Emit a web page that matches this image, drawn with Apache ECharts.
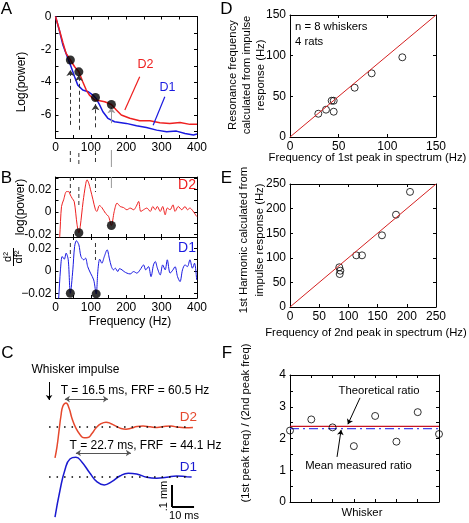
<!DOCTYPE html>
<html><head><meta charset="utf-8">
<script src="https://cdn.jsdelivr.net/npm/echarts@6/dist/echarts.min.js"></script>
<style>html,body{margin:0;padding:0;background:#fff}#c{width:469px;height:523px}</style>
</head><body><div id="c"></div>
<script>
const FONT = '"Liberation Sans", Arial, Helvetica, sans-serif';
const RED = '#ee2020', BLUE = '#1a1ae0', CRED = '#e5482d', CBLUE = '#1a1ad0';

// ---------- Panel A : log power spectrum ----------
const specFreqD2 = [0,11,21,30,42,54,66,77,87,96,111,125,139,158,172,186,210,238,267,295,323,352,380,400];
const specLogD2  = [0,-0.82,-1.6,-2.25,-2.65,-3.06,-3.37,-3.97,-4.48,-4.79,-5.09,-5.13,-5.19,-5.36,-5.70,-6.0,-6.2,-6.35,-6.35,-6.47,-6.51,-6.45,-6.57,-6.57];
const specFreqD1 = [0,11,21,35,44,54,63,77,92,106,115,125,134,148,167,200,229,257,286,314,342,366,390,400];
const specLogD1  = [0,-0.85,-1.74,-2.55,-3.06,-3.67,-4.18,-4.48,-4.58,-4.79,-4.99,-5.4,-5.8,-6.2,-6.41,-6.51,-6.65,-6.76,-6.92,-7.02,-6.98,-7.12,-7.22,-7.16];
const peakFreqA = [42,66,113,158];
const peakLogA  = [-2.65,-3.37,-4.93,-5.36];
const arrowTipLogA  = [-3.26,-3.57,-5.34,-5.52];
const arrowBaseLogA = [-6.6,-6.9,-6.75,-6.5];

// ---------- Panel B : second derivative ----------
const d2Freq = [10,12,17,23,31,37,42,47,53,61,66,70,78,85,89,94,99,106,113,117,124,131,141,150,158,166,174,183,192,202,211,221,228,235,241,249,258,268,275,282,288,296,303,310,316,324,332,338,347,357,366,373,380,388,399];
const d2Val  = [-0.03,-0.022,0.0047,0.0107,0.018,0.018,0.015,0.012,0.009,-0.0116,-0.0187,-0.013,0.009,0.024,0.0285,0.0255,0.0196,0.0107,0.0018,0.0003,0.0056,0.0038,-0.0012,-0.0042,-0.0122,0.0003,0.0077,0.0047,0.0038,0.0018,0.0033,0.0018,0.0047,0.0092,0.0003,0.0018,0.0033,0.0003,0.0047,0.0018,0.0047,0.0003,0.0047,-0.0027,0.0033,0.0018,0.0062,0.0003,0.0047,0.0018,0.0047,0.0018,0.0033,0.0009,-0.0042];
const d1Freq = [7,9,14,19,25,30,36,42,49,54,59,66,72,80,85,91,99,108,115,120,125,131,138,146,152,158,164,169,176,181,188,194,202,211,221,230,239,249,255,263,270,277,282,288,296,303,310,316,324,332,338,345,352,359,366,373,380,387,393,399];
const d1Val  = [-0.03,-0.024,0.0009,0.0127,0.0104,0.0157,0.0098,-0.0198,0.0009,0.0216,0.0267,0.0231,0.0127,0.0098,0.0113,0.0038,-0.002,-0.008,-0.0204,0.0009,0.0104,0.0068,0.0127,0.0187,0.0113,0.0038,0.0009,0.0024,-0.0006,0.002,0.0009,-0.0006,-0.002,-0.0027,-0.0006,-0.002,0.0009,0.0053,0.0009,0.0038,-0.0051,0.0053,0.0083,0.0024,-0.0036,0.0053,0.0009,0.0098,-0.002,0.0009,0.0038,-0.0051,-0.0095,0.0009,0.0053,0.0038,0.0098,0.0024,0.0068,-0.008];
const d2DotFreq = [66,158], d2DotVal = [-0.0187,-0.0122];
const d1DotFreq = [42,115], d1DotVal = [-0.0198,-0.0204];

// ---------- Panel C : impulse responses (ms, mm) ----------
const tD2 = [0,0.9,1.8,2.7,3.6,5,6.4,7.7,9.5,11.4,13.2,15,16.8,18.6,20.9,23.2,25.5,27.7,30,32.3,34.5,37.3,40,43.2,46.4,49.5,52.7,55.9,59.1,62.7];
const yD2 = [-0.14,-0.09,-0.02,0.05,0.095,0.109,0.085,0.04,-0.005,-0.035,-0.049,-0.048,-0.03,-0.005,0.015,0.022,0.015,0.004,-0.007,-0.01,-0.006,0.002,0.004,0.001,-0.002,0.002,0.004,-0.001,-0.003,-0.002];
const tD1 = [0,2.3,4.5,6.8,9.5,12.1,15.9,19,22.4,25.8,29.5,33.3,37.1,41.7,46.2,50.8,55.3,59.9,62.1];
const yD1 = [-0.182,-0.059,0.032,0.082,0.0895,0.0695,0.017,-0.021,-0.036,-0.021,0.0045,0.017,0.0136,-0.0014,-0.006,-0.0014,0.0045,0.0014,0];
const baselineT = [-2.7,61.4];
const periodD2 = [4.5,24.1], periodD1 = [9.5,34.5];

// ---------- Panel D ----------
const dX = [29.1,37,42.8,44.9,44.9,66.4,83.9,115.4];
const dY = [28.6,33.6,44.6,44.6,31.1,60.6,78.3,98];
const unityD = [0,150];
// ---------- Panel E ----------
const eX = [84.4,86.2,85.1,113.5,123.3,157.5,181.5,205.5];
const eY = [80.7,73.8,67,105,105,145.7,187.6,234];
const unityE = [0,250];
// ---------- Panel F ----------
const whisker = [1,2,3,4,5,6,7,8];
const ratio = [2.25,2.6,2.35,1.76,2.71,1.9,2.83,2.14];
const theoreticalRatio = 2.38;
const meanRatio = 2.31;

const zip = (a,b) => a.map((v,i)=>[v,b[i]]);
const range = (a,b,s) => { const r=[]; for(let v=a; v<=b+1e-9; v+=s) r.push(+v.toFixed(6)); return r; };

const grids = [
  {left:55.5, top:16.5, width:141.5, height:121.5},   // 0 A
  {left:55.5, top:177, width:141.5, height:60},       // 1 B top
  {left:55.5, top:237, width:141.5, height:61},       // 2 B bottom
  {left:44, top:372, width:154, height:88},           // 3 C D2
  {left:44, top:435.2, width:154, height:83.6},       // 4 C D1
  {left:290, top:15, width:146, height:122},          // 5 D
  {left:290, top:184, width:146, height:123},         // 6 E
  {left:290, top:375, width:149, height:127}          // 7 F
];
const xAxes = [], yAxes = [];
function ax(gi,pos,r,ticks,labels,fmt){
  return {type:'value', gridIndex:gi, position:pos, min:r[0], max:r[1],
    axisLine:{show:true,onZero:false,lineStyle:{color:'#000',width:1}},
    axisTick:{show:true,inside:true,length:3,customValues:ticks,lineStyle:{color:'#000',width:1}},
    axisLabel:{show:!!labels, customValues:labels||undefined, formatter:fmt, color:'#000', fontSize:12, fontFamily:FONT, margin:4},
    splitLine:{show:false}};
}
function frame(gi,xr,yr,xt,xl,yt,yl,xf,yf){
  const xi=xAxes.length, yi=yAxes.length;
  xAxes.push(ax(gi,'bottom',xr,xt,xl,xf)); xAxes.push(ax(gi,'top',xr,xt,null,xf));
  yAxes.push(ax(gi,'left',yr,yt,yl,yf)); yAxes.push(ax(gi,'right',yr,yt,null,yf));
  return [xi,yi];
}
function hidden(gi,xr,yr){
  const xi=xAxes.length, yi=yAxes.length;
  xAxes.push({type:'value',gridIndex:gi,min:xr[0],max:xr[1],show:false});
  yAxes.push({type:'value',gridIndex:gi,min:yr[0],max:yr[1],show:false});
  return [xi,yi];
}
const fmtInt = v => String(Math.round(v));
const fmtB1 = v => Math.abs(v)<1e-9 ? '0' : (v>0 ? '0.02' : '-0.02');
const fmtB2 = v => Math.abs(v)<1e-9 ? '0' : (v>0 ? '0.02' : '\u22120.02');

const A  = frame(0,[0,400],[-7.4,0],range(0,400,50),range(0,400,100),range(-7,0,1),[-6,-4,-2,0],fmtInt,fmtInt);
const B1 = frame(1,[0,400],[-0.0225,0.031],range(0,400,50),null,[-0.02,-0.01,0,0.01,0.02,0.03],[-0.02,0,0.02],fmtInt,fmtB1);
const B2 = frame(2,[0,400],[-0.024,0.030],range(0,400,50),range(0,400,100),[-0.02,-0.01,0,0.01,0.02],[-0.02,0,0.02],fmtInt,fmtB2);
const C2 = hidden(3,[-5,65],[-0.15,0.25]);
const C1 = hidden(4,[-5,65],[-0.19,0.19]);
const D  = frame(5,[0,150],[0,150],range(0,150,50),range(0,150,50),range(0,150,50),range(0,150,50),fmtInt,fmtInt);
const E  = frame(6,[0,250],[0,250],range(0,250,50),range(0,250,50),range(0,250,50),range(0,250,50),fmtInt,fmtInt);
const F  = frame(7,[1,8],[0,4],whisker,null,range(0,4,0.5),[0,1,2,3,4],fmtInt,fmtInt);

const ML = (data, extra={}) => Object.assign({silent:true, animation:false, symbol:['none','arrow'], symbolSize:6, label:{show:false}, data}, extra);
const seg = (p,q,ls) => [{coord:p, lineStyle:ls},{coord:q}];
const circ = {color:'rgba(0,0,0,0)', borderColor:'#000', borderWidth:1};

const series = [
  // A
  {type:'line', xAxisIndex:A[0], yAxisIndex:A[1], data:zip(specFreqD1,specLogD1), showSymbol:false, lineStyle:{color:BLUE,width:1.5},
    markLine:ML([seg([309,-4.89],[276,-6.62],{color:BLUE,width:1.2,type:'solid'})],{symbol:'none'})},
  {type:'line', xAxisIndex:A[0], yAxisIndex:A[1], data:zip(specFreqD2,specLogD2), showSymbol:false, lineStyle:{color:RED,width:1.5},
    markLine:ML([seg([238,-3.67],[196,-5.7],{color:RED,width:1.2,type:'solid'})],{symbol:'none'})},
  {type:'scatter', xAxisIndex:A[0], yAxisIndex:A[1], data:zip(peakFreqA,peakLogA), symbolSize:9, itemStyle:{color:'#000'}, z:5,
    markLine:ML(peakFreqA.map((f,i)=>seg([f,arrowBaseLogA[i]],[f,arrowTipLogA[i]],{color:i===3?'#999':'#333',width:1,type:i===3?'solid':[4,3]})))},
  // B
  {type:'line', xAxisIndex:B1[0], yAxisIndex:B1[1], data:zip(d2Freq,d2Val), showSymbol:false, smooth:0.3, lineStyle:{color:RED,width:1}},
  {type:'scatter', xAxisIndex:B1[0], yAxisIndex:B1[1], data:zip(d2DotFreq,d2DotVal), symbolSize:9, itemStyle:{color:'#000'}, clip:false, z:5},
  {type:'line', xAxisIndex:B2[0], yAxisIndex:B2[1], data:zip(d1Freq,d1Val), showSymbol:false, smooth:0.3, lineStyle:{color:BLUE,width:1}},
  {type:'scatter', xAxisIndex:B2[0], yAxisIndex:B2[1], data:zip(d1DotFreq,d1DotVal), symbolSize:9, itemStyle:{color:'#000'}, clip:false, z:5},
  // C
  {type:'line', xAxisIndex:C2[0], yAxisIndex:C2[1], data:zip(tD2,yD2), showSymbol:false, smooth:0.5, clip:false, lineStyle:{color:CRED,width:1.5},
    markLine:ML([
      seg([-2.7,0.2045],[-2.7,0.1227],{color:'#000',width:1,type:'solid'}),
      [{coord:[periodD2[0],0.127], symbol:'arrow', lineStyle:{color:'#555',width:1.2,type:'solid'}},{coord:[periodD2[1],0.127], symbol:'arrow'}]
    ],{symbolSize:5})},
  {type:'line', xAxisIndex:C2[0], yAxisIndex:C2[1], data:baselineT.map(t=>[t,0]), showSymbol:false, lineStyle:{color:'#000',width:1.5,type:[1.5,6]}},
  {type:'line', xAxisIndex:C1[0], yAxisIndex:C1[1], data:zip(tD1,yD1), showSymbol:false, smooth:0.5, clip:false, lineStyle:{color:CBLUE,width:1.5},
    markLine:ML([
      [{coord:[periodD1[0],0.109], symbol:'arrow', lineStyle:{color:'#555',width:1.2,type:'solid'}},{coord:[periodD1[1],0.109], symbol:'arrow'}],
      [{coord:[53.2,-0.036], symbol:'none', lineStyle:{color:'#000',width:2,type:'solid'}},{coord:[53.2,-0.136], symbol:'none'}],
      [{coord:[53.2,-0.136], symbol:'none', lineStyle:{color:'#000',width:2,type:'solid'}},{coord:[63.2,-0.136], symbol:'none'}]
    ],{symbolSize:5})},
  {type:'line', xAxisIndex:C1[0], yAxisIndex:C1[1], data:baselineT.map(t=>[t,0]), showSymbol:false, lineStyle:{color:'#000',width:1.5,type:[1.5,6]}},
  // D
  {type:'line', xAxisIndex:D[0], yAxisIndex:D[1], data:zip(unityD,unityD), showSymbol:false, lineStyle:{color:'#d42020',width:1}},
  {type:'scatter', xAxisIndex:D[0], yAxisIndex:D[1], data:zip(dX,dY), symbol:'circle', symbolSize:7, itemStyle:circ},
  // E
  {type:'line', xAxisIndex:E[0], yAxisIndex:E[1], data:zip(unityE,unityE), showSymbol:false, lineStyle:{color:'#d42020',width:1}},
  {type:'scatter', xAxisIndex:E[0], yAxisIndex:E[1], data:zip(eX,eY), symbol:'circle', symbolSize:7, itemStyle:circ},
  // F
  {type:'line', xAxisIndex:F[0], yAxisIndex:F[1], data:[[whisker[0],theoreticalRatio],[whisker[7],theoreticalRatio]], showSymbol:false, lineStyle:{color:'#c81420',width:1.2},
    markLine:ML([
      seg([4.29,3.28],[3.72,2.45],{color:'#000',width:1,type:'solid'}),
      seg([3.21,1.42],[3.40,2.27],{color:'#000',width:1,type:'solid'})
    ],{symbolSize:5})},
  {type:'line', xAxisIndex:F[0], yAxisIndex:F[1], data:[[whisker[0],meanRatio],[whisker[7],meanRatio]], showSymbol:false, lineStyle:{color:'#4646e6',width:1.2,type:[9,4,2,4]}},
  {type:'scatter', xAxisIndex:F[0], yAxisIndex:F[1], data:zip(whisker,ratio), symbol:'circle', symbolSize:7, clip:false, itemStyle:circ, z:5}
];

const chart = echarts.init(document.getElementById('c'), null, {renderer:'canvas'});
chart.setOption({animation:false, backgroundColor:'#fff', grid:grids, xAxis:xAxes, yAxis:yAxes, series});

// ---- annotations ----
function txt(text,x,y,o={}){
  return {type:'text', x, y, rotation:o.rot||0, silent:true, z:100,
    style:{text, fill:o.color||'#000', fontSize:o.size||12, fontFamily:FONT, fontWeight:'normal',
      align:o.align||'center', verticalAlign:'middle', lineHeight:o.lh||14}};
}
function line(x1,y1,x2,y2,o={}){
  return {type:'line', silent:true, z:50, shape:{x1,y1,x2,y2}, style:{stroke:o.color||'#333', lineWidth:o.w||1, lineDash:o.dash||null}};
}
const R = Math.PI/2, T = 11.3;
const g = [
  txt('A',6.5,9,{size:17}), txt('B',6.5,178.5,{size:17}), txt('C',7.5,353,{size:17}),
  txt('D',226.5,9,{size:17}), txt('E',226.5,178.5,{size:17}), txt('F',227,353,{size:17}),
  txt('Log(power)',22,82,{rot:R}),
  txt('D2',145.5,65,{color:RED,size:12.5}), txt('D1',167.5,88,{color:BLUE,size:12.5}),
  txt('log(power)',21,207,{rot:R}),
  txt('d\u00b2',8,257,{rot:R,size:11}), txt('df\u00b2',19,257,{rot:R,size:11}),
  line(13.5,248,13.5,266,{color:'#000'}),
  txt('D2',196,185,{color:RED,size:14,align:'right'}), txt('D1',196,248,{color:BLUE,size:14,align:'right'}),
  txt('Frequency (Hz)',130,322),
  txt('Whisker impulse',75.5,370),
  txt('T = 16.5 ms, FRF = 60.5 Hz',135,391),
  txt('T = 22.7 ms, FRF  = 44.1 Hz',145.5,446),
  txt('D2',197,417,{color:CRED,size:13.5,align:'right'}), txt('D1',197,467,{color:CBLUE,size:13.5,align:'right'}),
  txt('.1 mm',163.5,496,{rot:R,size:11}), txt('10 ms',184,516,{size:11}),
  txt('Resonance frequency\ncalculated from impulse\nresponse (Hz)',247,75,{rot:R,lh:14,size:T}),
  txt('n = 8 whiskers',295,27,{align:'left',size:T}), txt('4 rats',295,42,{align:'left',size:T}),
  txt('Frequency of 1st peak in spectrum (Hz)',367.5,158,{size:T}),
  txt('1st Harmonic calculated from\nimpulse response (Hz)',252,240,{rot:R,lh:16,size:T}),
  txt('Frequency of 2nd peak in spectrum (Hz)',366,333,{size:T}),
  txt('(1st peak freq) / (2nd peak freq)',246,423,{rot:R,size:T}),
  txt('Whisker',362,513,{size:T}),
  txt('Theoretical ratio',379,391,{size:T}),
  txt('Mean measured ratio',358.5,466,{size:T})
];
// dashed connectors from panel A peaks down through panel B
const gapY = [[151,162],[153,165],[151,162],[150,167]];
const b1Y = [[177,193],[187,208],[177,192],[177,188]];
const b2Y = [[243,258],null,[243,260],null];
peakFreqA.forEach((f,i)=>{
  const x = chart.convertToPixel({xAxisIndex:B1[0]}, f);
  const st = i===3 ? {color:'#999'} : {color:'#333',dash:[4,3]};
  g.push(line(x,gapY[i][0],x,gapY[i][1],st));
  g.push(line(x,b1Y[i][0],x,b1Y[i][1],st));
  if (b2Y[i]) g.push(line(x,b2Y[i][0],x,b2Y[i][1],st));
});
chart.setOption({graphic:g});
</script></body></html>
